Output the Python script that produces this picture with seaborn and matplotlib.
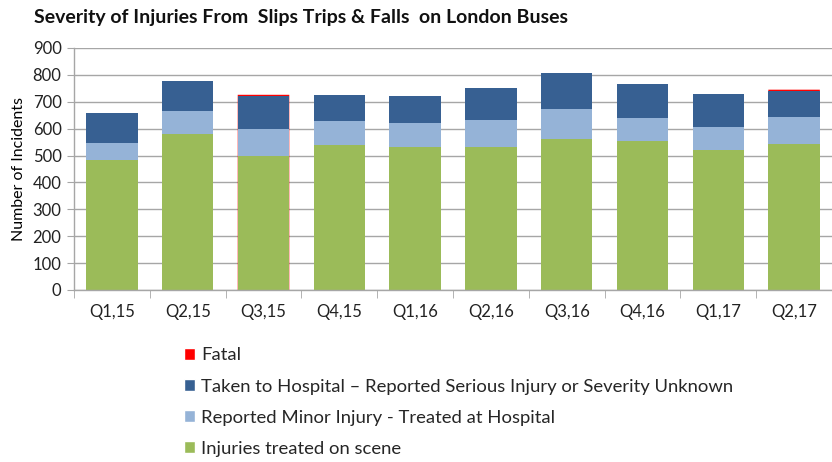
import matplotlib
matplotlib.use("Agg")
import matplotlib.pyplot as plt
import seaborn as sns
import pandas as pd
import numpy as np
from matplotlib.patches import Patch

quarters = ["Q1,15", "Q2,15", "Q3,15", "Q4,15", "Q1,16", "Q2,16", "Q3,16", "Q4,16", "Q1,17", "Q2,17"]
on_scene = [484, 581, 500, 541, 531, 530, 560, 554, 520, 544]
minor = [63, 84, 100, 86, 90, 102, 112, 87, 85, 101]
serious = [110, 112, 120, 97, 100, 120, 135, 126, 123, 96]
fatal = [0, 0, 6, 0, 0, 0, 0, 0, 0, 4]

labels = ["Injuries treated on scene",
          "Reported Minor Injury - Treated at Hospital",
          "Taken to Hospital \u2013 Reported Serious Injury or Severity Unknown",
          "Fatal"]
colors = ["#9BBB59", "#95B3D7", "#376092", "#FF0000"]

sns.set_style("white")
plt.rcParams['font.family'] = ['Lato', 'DejaVu Sans']

layers = np.array([on_scene, minor, serious, fatal], dtype=float)
cum = np.cumsum(layers, axis=0)

fig = plt.figure(figsize=(8.32, 4.62), dpi=100)
ax = fig.add_axes([74/832, 1-290/462, 1-74/832, 242/462])

# draw from top layer down so lower layers overlay; skip empty segments
for i in range(3, -1, -1):
    vals = np.where(layers[i] > 0, cum[i], np.nan)
    df = pd.DataFrame({"q": quarters, "v": vals})
    kw = dict(snap=False) if i == 3 else {}
    sns.barplot(data=df, x="q", y="v", order=quarters, color=colors[i], width=0.68,
                ax=ax, saturation=1, linewidth=0, **kw)

ax.set_ylim(0, 900)
ax.set_xlim(-0.5, 9.5)
ax.set_yticks(range(0, 901, 100))
ax.yaxis.grid(True, color="#A6A6A6", linewidth=1)
ax.set_axisbelow(True)
for s in ["top", "right"]:
    ax.spines[s].set_visible(False)
for s in ["left", "bottom"]:
    ax.spines[s].set_color("#A6A6A6")
    ax.spines[s].set_linewidth(1)
ax.set_xlabel("")
ax.set_ylabel("Number of Incidents", fontsize=11.5, color="black", labelpad=5)
ax.tick_params(axis="y", length=5, color="#A6A6A6", labelsize=12, direction="out", left=True, pad=4)
ax.tick_params(axis="x", which="major", length=0, labelsize=12, pad=10)
ax.set_xticks(np.arange(-0.5, 10, 1), minor=True)
ax.tick_params(axis="x", which="minor", length=6, color="#A6A6A6", direction="out", bottom=True)
for t in ax.get_yticklabels() + ax.get_xticklabels():
    t.set_color("#222222")

fig.text(34/832, 1-17/462, "Severity of Injuries From  Slips Trips & Falls  on London Buses",
         fontsize=14, fontweight="bold", va="center", ha="left", color="#111111")

handles = [Patch(facecolor=colors[i], label=labels[i]) for i in (3, 2, 1, 0)]
fig.legend(handles=handles, loc="upper left", bbox_to_anchor=(177/832, 1-340/462),
           frameon=False, fontsize=13.3, handlelength=0.6, handleheight=0.6,
           handletextpad=0.3, labelspacing=0.82, borderaxespad=0)

fig.savefig("out.png", dpi=100)
